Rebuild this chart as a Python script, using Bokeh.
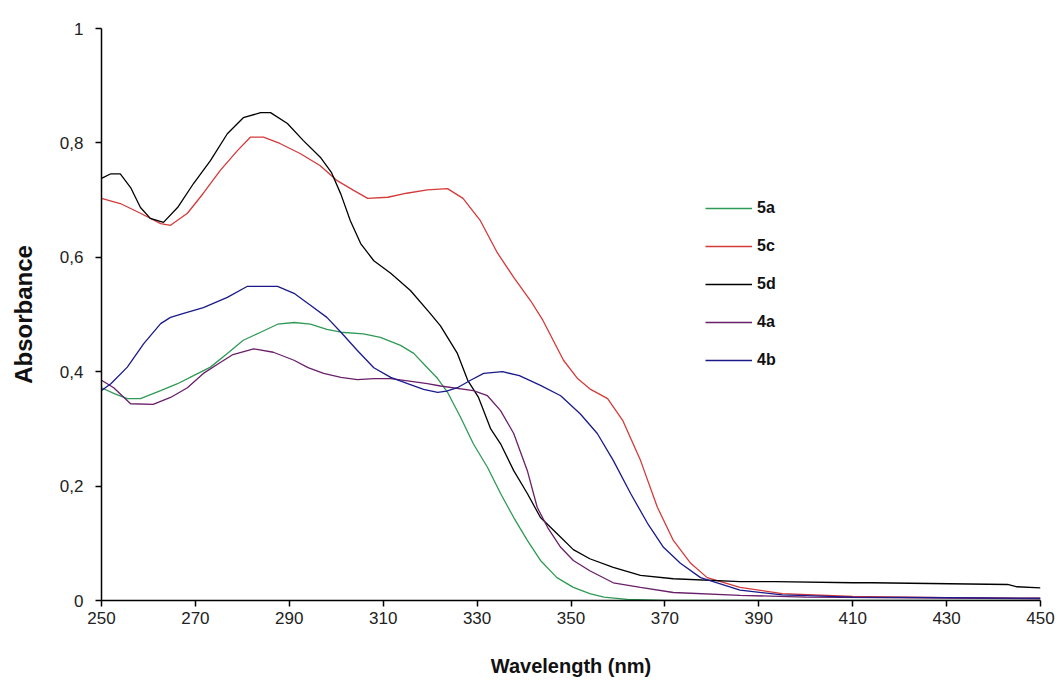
from bokeh.plotting import figure
from bokeh.models import FixedTicker, Legend, LegendItem
from bokeh.embed import file_html
from bokeh.resources import INLINE

# ---- data ----
wl_5a = [250, 252.6, 255.5, 258.3, 262.6, 266.2, 269.6, 273.2, 276.8, 280.2, 283.9, 287.5, 291, 294.5, 298, 301,
         305.8, 309.4, 313.7, 316.5, 319.4, 321.6, 323.7, 326.5, 329.2, 332.2, 335, 337.8, 340.7, 343.5, 347,
         350.5, 354, 357, 362, 370, 450]
abs_5a = [0.372, 0.362, 0.353, 0.353, 0.367, 0.379, 0.393, 0.408, 0.432, 0.455, 0.469, 0.483, 0.486, 0.483, 0.474,
          0.469, 0.466, 0.46, 0.446, 0.432, 0.407, 0.388, 0.364, 0.32, 0.274, 0.233, 0.187, 0.145, 0.105, 0.07,
          0.04, 0.023, 0.012, 0.006, 0.002, 0.0, 0.0]

wl_5c = [250, 254, 258.3, 262.6, 264.7, 268.3, 271.7, 275.3, 279, 281.7, 284.5, 288, 292.4, 296.6, 300.2, 303.7,
         306.7, 311, 315, 319.4, 323.7, 327, 330.7, 334.3, 337.8, 341.4, 344, 348.4, 351.4, 354, 357.8, 361,
         364.8, 368.4, 371.8, 375.5, 379, 386, 395, 410, 430, 450]
abs_5c = [0.703, 0.694, 0.677, 0.659, 0.656, 0.677, 0.712, 0.752, 0.787, 0.81, 0.81, 0.799, 0.781, 0.76, 0.734,
          0.717, 0.703, 0.705, 0.712, 0.718, 0.72, 0.703, 0.664, 0.608, 0.565, 0.524, 0.49, 0.42, 0.388, 0.37,
          0.353, 0.315, 0.245, 0.163, 0.105, 0.065, 0.04, 0.023, 0.012, 0.007, 0.005, 0.004]

wl_5d = [250, 252, 254, 256.2, 258.3, 260.4, 263.2, 266.2, 269.6, 273.2, 276.8, 280.2, 283.9, 286, 289.6, 293,
         296.6, 299, 301, 303, 305.2, 308, 311.6, 315.8, 320, 322.2, 325.8, 328, 330.3, 332.9, 335, 337.8,
         340.7, 343.5, 347, 350.5, 354, 359, 364.8, 371.8, 386, 393.5, 410, 414, 443, 445, 450]
abs_5d = [0.738, 0.746, 0.746, 0.722, 0.687, 0.668, 0.661, 0.687, 0.729, 0.769, 0.816, 0.844, 0.853, 0.853,
          0.834, 0.804, 0.775, 0.748, 0.71, 0.664, 0.624, 0.594, 0.572, 0.542, 0.502, 0.48, 0.432, 0.385,
          0.355, 0.30, 0.274, 0.227, 0.187, 0.145, 0.117, 0.089, 0.073, 0.058, 0.044, 0.038, 0.033, 0.033,
          0.031, 0.031, 0.028, 0.024, 0.022]

wl_4a = [250, 252.6, 256.2, 261, 264.7, 268.3, 271.7, 275.3, 278, 282.4, 286.6, 291, 294, 297.3, 301, 304.5, 308,
         311.6, 315.2, 319.4, 322.2, 329.2, 332.2, 335, 337.8, 340.7, 342.8, 345, 347.8, 350.5, 354, 359, 364.8,
         371.8, 386, 400, 430, 450]
abs_4a = [0.385, 0.372, 0.344, 0.343, 0.355, 0.372, 0.397, 0.416, 0.43, 0.44, 0.434, 0.42, 0.407, 0.397, 0.39,
          0.386, 0.388, 0.388, 0.384, 0.379, 0.375, 0.367, 0.358, 0.332, 0.292, 0.227, 0.163, 0.128, 0.093, 0.07,
          0.052, 0.031, 0.023, 0.014, 0.009, 0.006, 0.004, 0.003]

wl_4b = [250, 252, 255.5, 259, 262.6, 264.7, 267.5, 271.7, 276.8, 281, 287.5, 291, 294.5, 298, 301, 304.5, 308,
         311.6, 315.2, 318.6, 321.6, 323.5, 325.8, 328.6, 331.4, 335.4, 339, 343.5, 347.8, 352, 355.6, 359, 362.7,
         366.3, 369.7, 373.3, 377.6, 386, 395, 410, 430, 450]
abs_4b = [0.367, 0.379, 0.408, 0.449, 0.484, 0.495, 0.502, 0.512, 0.53, 0.549, 0.549, 0.537, 0.516, 0.495, 0.469,
          0.437, 0.407, 0.39, 0.379, 0.369, 0.364, 0.366, 0.372, 0.385, 0.397, 0.40, 0.393, 0.376, 0.358, 0.326,
          0.292, 0.245, 0.187, 0.135, 0.093, 0.065, 0.04, 0.018, 0.01, 0.006, 0.005, 0.004]

x_ticks = [250, 270, 290, 310, 330, 350, 370, 390, 410, 430, 450]
y_ticks = [0, 0.2, 0.4, 0.6, 0.8, 1.0]
y_tick_labels = ["0", "0,2", "0,4", "0,6", "0,8", "1"]

series = [
    ("5a", wl_5a, abs_5a, "#2f9a55"),
    ("5c", wl_5c, abs_5c, "#d43a3a"),
    ("5d", wl_5d, abs_5d, "#000000"),
    ("4a", wl_4a, abs_4a, "#6a1f6a"),
    ("4b", wl_4b, abs_4b, "#1a1a8c"),
]

p = figure(width=1061, height=693, output_backend="svg", toolbar_location=None,
           x_range=(250, 450), y_range=(0, 1),
           min_border_left=101, min_border_right=21, min_border_top=28, min_border_bottom=93)
p.outline_line_color = None
p.xgrid.visible = False
p.ygrid.visible = False
p.background_fill_color = "white"
p.border_fill_color = "white"

items = []
for name, xs, ys, col in series:
    r = p.line(xs, ys, line_color=col, line_width=1.3)
    items.append(LegendItem(label=name, renderers=[r]))

for ax in (p.xaxis[0], p.yaxis[0]):
    ax.axis_line_color = "black"
    ax.axis_line_width = 1.5
    ax.major_tick_line_color = "black"
    ax.major_tick_line_width = 1.5
    ax.major_tick_out = 6
    ax.major_tick_in = 0
    ax.minor_tick_line_color = None
    ax.major_label_text_font = "Liberation Sans"
    ax.major_label_text_font_size = "17px"
    ax.major_label_text_color = "#222222"
    ax.axis_label_text_font = "Liberation Sans"
    ax.axis_label_text_font_style = "bold"
    ax.axis_label_text_color = "#111111"

p.xaxis.axis_label_text_font_size = "20px"
p.yaxis.axis_label_text_font_size = "24px"
p.xaxis.ticker = FixedTicker(ticks=x_ticks)
p.yaxis.ticker = FixedTicker(ticks=y_ticks)
p.yaxis.major_label_overrides = {t: l for t, l in zip(y_ticks, y_tick_labels)}
p.xaxis.axis_label = "Wavelength (nm)"
p.yaxis.axis_label = "Absorbance"
p.xaxis.major_label_standoff = 5
p.yaxis.major_label_standoff = 12
p.xaxis.axis_label_standoff = 28
p.yaxis.axis_label_standoff = 20

legend = Legend(items=items, location=(604, 230), orientation="vertical",
                glyph_width=47, glyph_height=20, label_height=20, spacing=18,
                padding=0, margin=0, label_standoff=5,
                background_fill_alpha=0, border_line_color=None,
                label_text_font="Liberation Sans", label_text_font_style="bold",
                label_text_font_size="16px", label_text_color="#111111")
p.add_layout(legend)

open("out.html", "w").write(file_html(p, INLINE))
